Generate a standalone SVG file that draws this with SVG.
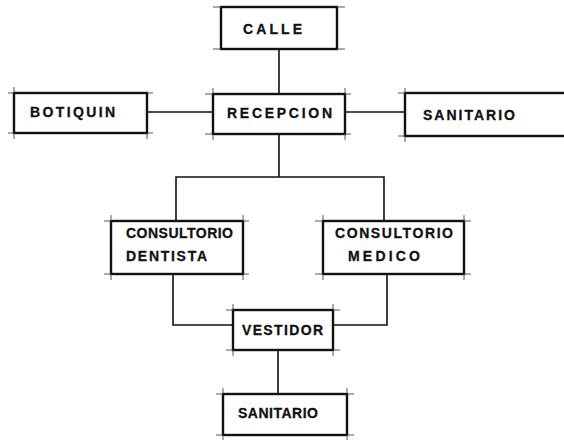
<svg xmlns="http://www.w3.org/2000/svg" width="564" height="440" viewBox="0 0 564 440">
<style>
.box{fill:#fff;stroke:#111;stroke-width:2.4}
.tick{stroke:#444;stroke-width:0.9;fill:none}
.lbl{font-family:"Liberation Sans",Arial,sans-serif;font-weight:bold;font-size:14px;fill:#111;stroke:#111;stroke-width:0.3}
.conn{stroke:#111;stroke-width:1.6;fill:none}
</style>
<rect width="564" height="440" fill="#fff"/>
<g id="connectors">
<path class="conn" d="M279,49V94"/>
<path class="conn" d="M147,112H213"/>
<path class="conn" d="M345,112H405"/>
<path class="conn" d="M279,134V177M176,221V177H384V221"/>
<path class="conn" d="M173,274V325H233"/>
<path class="conn" d="M387,274V325H333"/>
<path class="conn" d="M278,350V394"/>
</g>
<g id="calle">
<rect class="box" x="221" y="7" width="116" height="42"/>
<path class="tick" d="M213,7H221M337,7H345M213,49H221M337,49H345"/>
<text class="lbl" x="243" y="34" textLength="59" lengthAdjust="spacing">CALLE</text>
</g>
<g id="botiquin">
<rect class="box" x="14" y="93" width="133" height="40"/>
<path class="tick" d="M8,93H14M147,93H153M8,133H14M147,133H153M14,87V93M14,133V139M147,133V139"/>
<text class="lbl" x="30" y="117" textLength="85" lengthAdjust="spacing">BOTIQUIN</text>
</g>
<g id="recepcion">
<rect class="box" x="213" y="94" width="132" height="40"/>
<path class="tick" d="M205,94H213M345,94H351M205,134H213M345,134H351M213,88V94M345,88V94M213,134V140M345,134V140"/>
<text class="lbl" x="227" y="118" textLength="105" lengthAdjust="spacing">RECEPCION</text>
</g>
<g id="sanitario-1">
<rect class="box" x="405" y="93" width="170" height="43"/>
<path class="tick" d="M398,93H405M398,136H405M405,88V93M405,136V142"/>
<text class="lbl" x="423" y="120" textLength="92" lengthAdjust="spacing">SANITARIO</text>
</g>
<g id="consultorio-dentista">
<rect class="box" x="111" y="221" width="132" height="53"/>
<path class="tick" d="M104,221H111M243,221H249M104,274H111M243,274H249M111,215V221M243,215V221M111,274V280M243,274V280"/>
<text class="lbl" x="126" y="238" textLength="107" lengthAdjust="spacing">CONSULTORIO</text>
<text class="lbl" x="126" y="261" textLength="81" lengthAdjust="spacing">DENTISTA</text>
</g>
<g id="consultorio-medico">
<rect class="box" x="323" y="221" width="141" height="53"/>
<path class="tick" d="M315,221H323M464,221H471M315,274H323M464,274H471M323,215V221M464,215V221M323,274V280M464,274V280"/>
<text class="lbl" x="335" y="238" textLength="118" lengthAdjust="spacing">CONSULTORIO</text>
<text class="lbl" x="348" y="261" textLength="72" lengthAdjust="spacing">MEDICO</text>
</g>
<g id="vestidor">
<rect class="box" x="233" y="310" width="100" height="40"/>
<path class="tick" d="M226,310H233M333,310H340M226,350H233M333,350H340M233,304V310M333,304V310M233,350V356M333,350V356"/>
<text class="lbl" x="242" y="335" textLength="81" lengthAdjust="spacing">VESTIDOR</text>
</g>
<g id="sanitario-2">
<rect class="box" x="223" y="394" width="124" height="41"/>
<path class="tick" d="M216,394H223M347,394H354M216,435H223M347,435H354M223,388V394M347,388V394M223,435V440M347,435V440"/>
<text class="lbl" x="238" y="418" textLength="80" lengthAdjust="spacing">SANITARIO</text>
</g>
</svg>
